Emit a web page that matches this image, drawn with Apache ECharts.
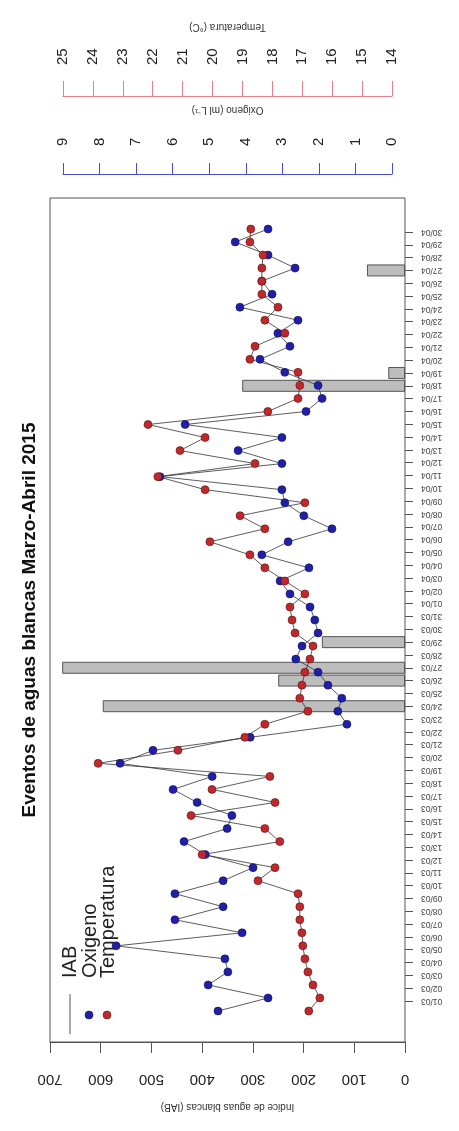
<!DOCTYPE html>
<html><head><meta charset="utf-8">
<script src="https://cdn.jsdelivr.net/npm/echarts@6/dist/echarts.min.js"></script>
<style>html,body{margin:0;padding:0;background:#fff}#c{width:459px;height:1131px}</style>
</head><body><div id="c"></div>
<script>
const dates = ['01/03','02/03','03/03','04/03','05/03','06/03','07/03','08/03','09/03','10/03',
 '11/03','12/03','13/03','14/03','15/03','16/03','17/03','18/03','19/03','20/03',
 '21/03','22/03','23/03','24/03','25/03','26/03','27/03','28/03','29/03','30/03','31/03',
 '01/04','02/04','03/04','04/04','05/04','06/04','07/04','08/04','09/04','10/04',
 '11/04','12/04','13/04','14/04','15/04','16/04','17/04','18/04','19/04','20/04',
 '21/04','22/04','23/04','24/04','25/04','26/04','27/04','28/04','29/04','30/04'];
const iab = [null,null,null,null,null,null,null,null,null,null,
 null,null,null,null,null,null,null,null,null,null,
 null,null,null,596,null,250,676,null,164,null,null,
 null,null,null,null,null,null,null,null,null,null,
 null,null,null,null,null,null,null,321,33,null,
 null,null,null,null,null,null,75,null,null,null];
const oxigeno = [4.76,3.39,5.03,4.49,4.57,7.55,4.10,5.94,4.62,5.94,
 4.62,3.80,5.11,5.69,4.51,4.38,5.33,5.99,4.92,7.44,
 6.54,3.88,1.23,1.48,1.37,1.75,2.02,2.63,2.46,2.02,2.11,
 2.24,2.79,3.06,2.27,3.56,2.84,1.64,2.41,2.93,3.01,
 6.35,3.01,4.21,3.01,5.66,2.35,1.91,2.02,2.93,3.61,
 2.79,3.12,2.57,4.16,3.28,3.56,2.65,3.39,4.29,3.39];
const temperatura = [16.78,16.41,16.64,16.81,16.91,16.98,17.01,17.08,17.08,17.14,
 18.48,17.91,20.35,17.75,18.25,20.72,17.91,20.02,18.08,23.83,
 21.16,18.92,18.25,16.81,17.08,17.01,16.91,16.74,16.64,17.24,17.34,
 17.41,16.91,17.58,18.25,18.75,20.09,18.25,19.08,16.91,20.25,
 21.83,18.58,21.09,20.25,22.16,18.15,17.14,17.08,17.14,18.75,
 18.58,17.58,18.25,17.81,18.35,18.35,18.35,18.31,18.75,18.72];
const iabRange = [0, 700];
const oxRange = [0, 9];
const tempRange = [14, 25];

const FONT = 'Liberation Sans, Arial, sans-serif';
const ext = (r) => { const d = (r[1]-r[0])*0.04; return [r[0]-d, r[1]+d]; };
const oxExt = ext(oxRange), tempExt = ext(tempRange);
const BLUE = '#1f1fa8', RED = '#c0282c';

const chart = echarts.init(document.getElementById('c'), null, {renderer: 'canvas'});
chart.setOption({
  animation: false,
  backgroundColor: '#fff',
  textStyle: {fontFamily: FONT},
  grid: [
    {left: 50, right: 54, top: 198, bottom: 89, show: true, borderColor: '#555', borderWidth: 1, backgroundColor: 'transparent'},
    {left: 50, right: 54, top: 232, bottom: 130},
    {left: 63, right: 67, top: 95, height: 1},
    {left: 63, right: 67, top: 173, height: 1},
    {left: 50, right: 54, top: 229, bottom: 120}
  ],
  xAxis: [
    {gridIndex: 0, type: 'value', min: iabRange[0], max: iabRange[1], interval: 100, inverse: true, position: 'bottom',
     axisLine: {show: true, lineStyle: {color: '#555'}}, axisTick: {show: true, length: 11, lineStyle: {color: '#555'}},
     splitLine: {show: false}, axisLabel: {rotate: 180, fontSize: 15, color: '#222', margin: 30, fontFamily: FONT},
     name: 'Indice de aguas blancas (IAB)', nameLocation: 'middle', nameGap: 60, nameRotate: 180,
     nameTextStyle: {fontSize: 10, color: '#333', fontFamily: FONT}},
    {gridIndex: 1, type: 'value', min: iabRange[0], max: iabRange[1], inverse: true, show: false},
    {gridIndex: 4, type: 'value', min: oxExt[0], max: oxExt[1], inverse: true, show: false},
    {gridIndex: 4, type: 'value', min: tempExt[0], max: tempExt[1], inverse: true, show: false},
    {gridIndex: 2, type: 'value', min: tempRange[0], max: tempRange[1], interval: 1, inverse: true, position: 'top',
     axisLine: {show: true, lineStyle: {color: '#e8808a'}}, axisTick: {show: true, length: 15, lineStyle: {color: '#e8808a'}},
     splitLine: {show: false}, axisLabel: {rotate: 90, fontSize: 15, color: '#222', margin: 30, fontFamily: FONT},
     name: 'Temperatura (°C)', nameLocation: 'middle', nameGap: 63, nameRotate: 180,
     nameTextStyle: {fontSize: 10, color: '#333', fontFamily: FONT}},
    {gridIndex: 3, type: 'value', min: oxRange[0], max: oxRange[1], interval: 1, inverse: true, position: 'top',
     axisLine: {show: true, lineStyle: {color: '#4a4ad4'}}, axisTick: {show: true, length: 11, lineStyle: {color: '#4a4ad4'}},
     splitLine: {show: false}, axisLabel: {rotate: 90, fontSize: 15, color: '#222', margin: 27, fontFamily: FONT},
     name: 'Oxigeno (ml L\u207B\u00B9)', nameLocation: 'middle', nameGap: 58, nameRotate: 180,
     nameTextStyle: {fontSize: 10, color: '#333', fontFamily: FONT}}
  ],
  yAxis: [
    {gridIndex: 0, type: 'value', show: false, min: 0, max: 1},
    {gridIndex: 1, type: 'category', data: dates, boundaryGap: false, position: 'right',
     axisLine: {show: false}, axisTick: {show: true, length: 8, alignWithLabel: true, lineStyle: {color: '#555'}},
     axisLabel: {rotate: 180, fontSize: 8.5, color: '#444', margin: 16, interval: 0, fontFamily: FONT},
     splitLine: {show: false}},
    {gridIndex: 2, type: 'value', show: false},
    {gridIndex: 3, type: 'value', show: false},
    {gridIndex: 4, type: 'category', data: dates, boundaryGap: false, show: false}
  ],
  series: [
    {type: 'bar', name: 'IAB', xAxisIndex: 1, yAxisIndex: 1, data: iab, barWidth: 12,
     itemStyle: {color: '#bdbdbd', borderColor: '#555', borderWidth: 1}},
    {type: 'line', name: 'Oxigeno', xAxisIndex: 2, yAxisIndex: 4, data: oxigeno,
     symbol: 'circle', symbolSize: 8, lineStyle: {color: '#333', width: 0.8},
     itemStyle: {color: BLUE, borderColor: '#10105a', borderWidth: 0.6}},
    {type: 'line', name: 'Temperatura', xAxisIndex: 3, yAxisIndex: 4, data: temperatura,
     symbol: 'circle', symbolSize: 8, lineStyle: {color: '#333', width: 0.8},
     itemStyle: {color: RED, borderColor: '#5a1010', borderWidth: 0.6}}
  ],
  graphic: [
    {type: 'text', x: 30, y: 620, rotation: Math.PI/2,
     style: {text: 'Eventos de aguas blancas Marzo-Abril 2015', font: 'bold 19px ' + FONT, fill: '#111', align: 'center', verticalAlign: 'middle'}},
    {type: 'text', x: 70, y: 978, rotation: Math.PI/2,
     style: {text: 'IAB', font: '20px ' + FONT, fill: '#222', align: 'left', verticalAlign: 'middle'}},
    {type: 'text', x: 90, y: 978, rotation: Math.PI/2,
     style: {text: 'Oxigeno', font: '20px ' + FONT, fill: '#222', align: 'left', verticalAlign: 'middle'}},
    {type: 'text', x: 108, y: 978, rotation: Math.PI/2,
     style: {text: 'Temperatura', font: '20px ' + FONT, fill: '#222', align: 'left', verticalAlign: 'middle'}},
    {type: 'line', shape: {x1: 70, y1: 994, x2: 70, y2: 1034}, style: {stroke: '#aaa', lineWidth: 2}},
    {type: 'circle', shape: {cx: 89, cy: 1015, r: 4}, style: {fill: BLUE, stroke: '#10105a', lineWidth: 0.6}},
    {type: 'circle', shape: {cx: 107, cy: 1015, r: 4}, style: {fill: RED, stroke: '#5a1010', lineWidth: 0.6}}
  ]
});
</script></body></html>
